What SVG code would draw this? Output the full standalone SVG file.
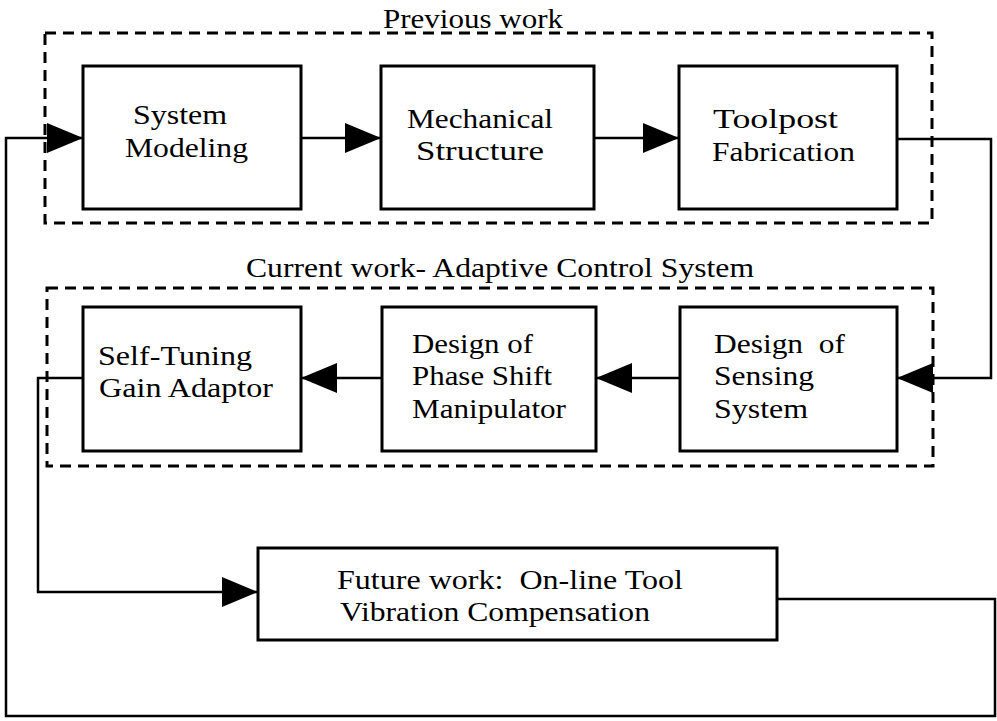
<svg xmlns="http://www.w3.org/2000/svg" width="997" height="721" viewBox="0 0 997 721">
<style>
.box{fill:#fff;stroke:#000;stroke-width:3}
.grp{fill:none;stroke:#000;stroke-width:3;stroke-dasharray:11 7}
.ln{fill:none;stroke:#000;stroke-width:2.5}
.t{font-family:"Liberation Serif","Times New Roman",serif;font-size:27px;fill:#000}
</style>
<defs>
<marker id="ah" markerUnits="userSpaceOnUse" markerWidth="36" markerHeight="30" refX="36" refY="15" orient="auto">
<path d="M0,0 L36,15 L0,30 z" fill="#000"/>
</marker>
</defs>
<g id="groups">
<rect class="grp" x="45" y="33" width="887" height="190"/>
<text class="t" x="383" y="28" textLength="180" lengthAdjust="spacingAndGlyphs">Previous work</text>
<rect class="grp" x="47" y="288" width="886" height="178"/>
<text class="t" x="246" y="277" textLength="508" lengthAdjust="spacingAndGlyphs">Current work- Adaptive Control System</text>
</g>
<g id="connectors">
<path class="ln" d="M778,599 H995 V716 H6 V138 H83" marker-end="url(#ah)"/>
<path class="ln" d="M301,138 H381" marker-end="url(#ah)"/>
<path class="ln" d="M594,138 H679" marker-end="url(#ah)"/>
<path class="ln" d="M897,139 H991 V378 H897" marker-end="url(#ah)"/>
<path class="ln" d="M680,378 H596" marker-end="url(#ah)"/>
<path class="ln" d="M382,378 H301" marker-end="url(#ah)"/>
<path class="ln" d="M83,378 H38 V592 H258" marker-end="url(#ah)"/>
</g>
<g id="system-modeling">
<rect class="box" x="83" y="66" width="218" height="143"/>
<text class="t" x="133" y="124" textLength="94" lengthAdjust="spacingAndGlyphs">System</text>
<text class="t" x="125" y="157" textLength="123" lengthAdjust="spacingAndGlyphs">Modeling</text>
</g>
<g id="mechanical-structure">
<rect class="box" x="381" y="66" width="213" height="143"/>
<text class="t" x="407" y="128" textLength="146" lengthAdjust="spacingAndGlyphs">Mechanical</text>
<text class="t" x="416" y="160" textLength="128" lengthAdjust="spacingAndGlyphs">Structure</text>
</g>
<g id="toolpost-fabrication">
<rect class="box" x="679" y="66" width="218" height="143"/>
<text class="t" x="713" y="128" textLength="125" lengthAdjust="spacingAndGlyphs">Toolpost</text>
<text class="t" x="712" y="161" textLength="143" lengthAdjust="spacingAndGlyphs">Fabrication</text>
</g>
<g id="self-tuning">
<rect class="box" x="83" y="307" width="218" height="144"/>
<text class="t" x="98" y="365" textLength="154" lengthAdjust="spacingAndGlyphs">Self-Tuning</text>
<text class="t" x="99" y="397" textLength="174" lengthAdjust="spacingAndGlyphs">Gain Adaptor</text>
</g>
<g id="phase-shift">
<rect class="box" x="382" y="307" width="214" height="144"/>
<text class="t" x="412" y="353" textLength="121" lengthAdjust="spacingAndGlyphs">Design of</text>
<text class="t" x="412" y="385" textLength="140" lengthAdjust="spacingAndGlyphs">Phase Shift</text>
<text class="t" x="412" y="418" textLength="154" lengthAdjust="spacingAndGlyphs">Manipulator</text>
</g>
<g id="sensing">
<rect class="box" x="680" y="307" width="217" height="144"/>
<text class="t" x="714" y="353" textLength="131" lengthAdjust="spacingAndGlyphs" xml:space="preserve">Design  of</text>
<text class="t" x="714" y="385" textLength="100" lengthAdjust="spacingAndGlyphs">Sensing</text>
<text class="t" x="714" y="418" textLength="94" lengthAdjust="spacingAndGlyphs">System</text>
</g>
<g id="future-work">
<rect class="box" x="258" y="548" width="519" height="92"/>
<text class="t" x="337" y="589" textLength="346" lengthAdjust="spacingAndGlyphs" xml:space="preserve">Future work:  On-line Tool</text>
<text class="t" x="340" y="621" textLength="310" lengthAdjust="spacingAndGlyphs">Vibration Compensation</text>
</g>
</svg>
